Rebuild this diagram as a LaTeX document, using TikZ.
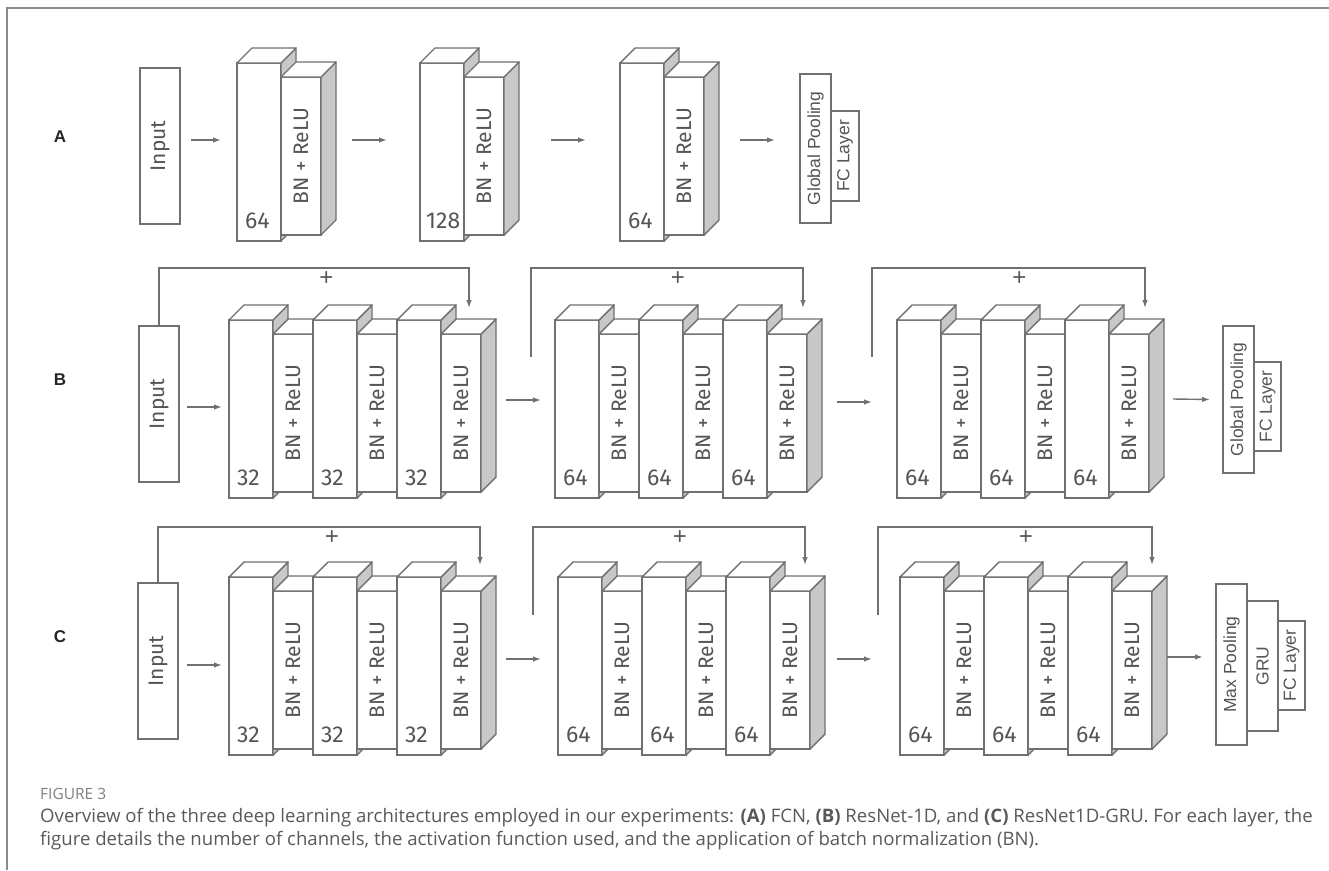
\documentclass[tikz,border=0pt]{standalone}
\usepackage{fontspec}
\setsansfont{Fira Sans}
\newfontfamily\arial{Liberation Sans}
\newfontfamily\leyenda{Open Sans}
\usetikzlibrary{positioning,calc,arrows.meta}
\definecolor{linea}{RGB}{112,112,112}
\definecolor{texto}{RGB}{85,85,85}
\definecolor{sombra}{RGB}{200,200,200}
\tikzset{
  capa/.style={draw=linea, fill=white, line width=1.4pt, inner sep=0pt, outer sep=0pt,
    font=\sffamily\fontsize{21}{21}\selectfont, text=texto},
  conv/.style={capa, minimum width=44pt, minimum height=178pt},
  bn/.style={capa, minimum width=40pt, minimum height=158pt},
  entrada/.style={capa, minimum width=40pt, minimum height=156pt},
  cabeza/.style={capa, font=\arial\fontsize{17.5}{17.5}\selectfont},
  num/.style={font=\sffamily\fontsize{23}{23}\selectfont, text=texto, inner sep=0pt, anchor=base west},
  flecha/.style={draw=linea, line width=1.4pt, -{Latex[length=8pt,width=5.5pt]}},
  mas/.style={font=\arial\fontsize{24}{24}\selectfont, text=texto, inner sep=0pt},
  fila/.style={font=\arial\bfseries\fontsize{17}{17}\selectfont, text=black!85},
  cara/.style={draw=linea, fill=sombra, line width=1.4pt, line join=round},
  tapa/.style={draw=linea, fill=white, line width=1.4pt, line join=round},
}
% caras laterales y superior de una capa
\newcommand{\caja}[1]{%
  \filldraw[cara] (#1.north east) -- ++(15,-15) -- ($(#1.south east)+(15,-15)$) -- (#1.south east) -- cycle;
  \filldraw[tapa] (#1.north west) -- ++(15,-15) -- ($(#1.north east)+(15,-15)$) -- (#1.north east) -- cycle;}
\begin{document}
\begin{tikzpicture}[x=1pt, y=-1pt]
  \useasboundingbox (0,0) rectangle (1329,870);
  \draw[draw=black!45, line width=2pt] (7,870) -- (7,8) -- (1329,8);

  % (A) FCN
  \node[fila] (lA) at (60,137) {A};
  \node[entrada] (inA) at (160,146) {\rotatebox{90}{Input}};
  \node[conv] (cA1) at (259,152) {}; \caja{cA1}
  \node[bn, right=0pt of cA1, yshift=-4pt] (bA1) {\rotatebox{90}{BN + ReLU}}; \caja{bA1}
  \node[num] (nA1) at ($(cA1.south west)+(8,-13)$) {64};
  \node[conv] (cA2) at (442,152) {}; \caja{cA2}
  \node[bn, right=0pt of cA2, yshift=-4pt] (bA2) {\rotatebox{90}{BN + ReLU}}; \caja{bA2}
  \node[num] (nA2) at ($(cA2.south west)+(6,-13)$) {128};
  \node[conv] (cA3) at (642,152) {}; \caja{cA3}
  \node[bn, right=0pt of cA3, yshift=-4pt] (bA3) {\rotatebox{90}{BN + ReLU}}; \caja{bA3}
  \node[num] (nA3) at ($(cA3.south west)+(8,-13)$) {64};
  \node[cabeza, minimum width=31pt, minimum height=149pt] (gpA) at (815.5,148.5) {\rotatebox{90}{Global Pooling}};
  \node[cabeza, minimum width=28pt, minimum height=90pt, right=0pt of gpA, yshift=-7.5pt] (fcA) {\rotatebox{90}{FC Layer}};
  \draw[flecha] ($(inA.east)+(11,-6)$) -- ($(cA1.west)+(-16,-12)$);
  \draw[flecha] ($(bA1.east)+(31,-16)$) -- ($(cA2.west)+(-33,-12)$);
  \draw[flecha] ($(bA2.east)+(47,-16)$) -- ($(cA3.west)+(-34,-12)$);
  \draw[flecha] ($(bA3.east)+(36,-16)$) -- ($(gpA.west)+(-25,-8.5)$);

  % (B) ResNet-1D
  \node[fila] (lB) at (60,380) {B};
  \node[entrada] (inB) at (159,404) {\rotatebox{90}{Input}};
  \foreach \g/\x/\n in {1/251/32, 2/577/64, 3/919/64}
    \foreach \k in {1,2,3} {
      \node[conv] (cB\g\k) at ({\x+84*(\k-1)},409) {}; \caja{cB\g\k}
      \node[bn, right=0pt of cB\g\k, yshift=-4pt] (bB\g\k) {\rotatebox{90}{BN + ReLU}}; \caja{bB\g\k}
      \node[num] (nB\g\k) at ($(cB\g\k.south west)+(8,-13)$) {\n};
    }
  \node[cabeza, minimum width=31pt, minimum height=147pt] (gpB) at (1238.5,399.5) {\rotatebox{90}{Global Pooling}};
  \node[cabeza, minimum width=27pt, minimum height=89pt, right=0pt of gpB, yshift=-7pt] (fcB) {\rotatebox{90}{FC Layer}};
  \coordinate (sB2) at (531,357);
  \coordinate (sB3) at (872,357);
  \draw[flecha] (inB.north) |- ($(bB13.north)+(8,-66)$) node[mas, pos=0.77, below=3pt] (pB1) {+} -- ($(bB13.north)+(8,-26)$);
  \draw[flecha] (sB2) |- ($(bB23.north)+(16,-66)$) node[mas, pos=0.77, below=3pt] (pB2) {+} -- ($(bB23.north)+(16,-26)$);
  \draw[flecha] (sB3) |- ($(bB33.north)+(16,-66)$) node[mas, pos=0.77, below=3pt] (pB3) {+} -- ($(bB33.north)+(16,-26)$);
  \draw[flecha] ($(inB.east)+(8,3)$) -- ($(cB11.west)+(-7,-2)$);
  \draw[flecha] ($(bB13.east)+(25,-13)$) -- ($(cB21.west)+(-14,-9)$);
  \draw[flecha] ($(bB23.east)+(30,-11)$) -- ($(cB31.west)+(-25,-7)$);
  \draw[flecha] ($(bB33.east)+(24,-14)$) -- ($(gpB.west)+(-13,0)$);

  % (C) ResNet1D-GRU
  \node[fila] (lC) at (60,637) {C};
  \node[entrada] (inC) at (158,661) {\rotatebox{90}{Input}};
  \foreach \g/\x/\n in {1/251/32, 2/580/64, 3/922/64}
    \foreach \k in {1,2,3} {
      \node[conv] (cC\g\k) at ({\x+84*(\k-1)},666) {}; \caja{cC\g\k}
      \node[bn, right=0pt of cC\g\k, yshift=-4pt] (bC\g\k) {\rotatebox{90}{BN + ReLU}}; \caja{bC\g\k}
      \node[num] (nC\g\k) at ($(cC\g\k.south west)+(8,-13)$) {\n};
    }
  \node[cabeza, minimum width=31pt, minimum height=161pt] (mpC) at (1231.5,664.5) {\rotatebox{90}{Max Pooling}};
  \node[cabeza, minimum width=31pt, minimum height=130pt, right=0pt of mpC, yshift=-1.5pt] (gruC) {\rotatebox{90}{GRU}};
  \node[cabeza, minimum width=27pt, minimum height=89pt, right=0pt of gruC, yshift=0.5pt] (fcC) {\rotatebox{90}{FC Layer}};
  \coordinate (sC2) at (533,615);
  \coordinate (sC3) at (878,615);
  \draw[flecha] (inC.north) |- ($(bC13.north)+(19,-64)$) node[mas, pos=0.77, below=3pt] (pC1) {+} -- ($(bC13.north)+(19,-26)$);
  \draw[flecha] (sC2) |- ($(bC23.north)+(15,-64)$) node[mas, pos=0.77, below=3pt] (pC2) {+} -- ($(bC23.north)+(15,-26)$);
  \draw[flecha] (sC3) |- ($(bC33.north)+(20,-64)$) node[mas, pos=0.77, below=3pt] (pC3) {+} -- ($(bC33.north)+(20,-26)$);
  \draw[flecha] ($(inC.east)+(9,4)$) -- ($(cC11.west)+(-7,-1)$);
  \draw[flecha] ($(bC13.east)+(25,-11)$) -- ($(cC21.west)+(-17,-7)$);
  \draw[flecha] ($(bC23.east)+(27,-11)$) -- ($(cC31.west)+(-28,-7)$);
  \draw[flecha] ($(bC33.east)+(15,-13)$) -- ($(mpC.west)+(-13,-7.5)$);

  % leyenda
  \node[anchor=base west, inner sep=0pt, text=black!50, font=\leyenda\fontsize{15.5}{15.5}\selectfont] (fig) at (40,799) {FIGURE 3};
  \node[anchor=base west, inner sep=0pt, align=left, text=black!65, font=\leyenda\fontsize{18.6}{23}\selectfont] (cap) at (40,845)
    {Overview of the three deep learning architectures employed in our experiments: \textbf{(A)} FCN, \textbf{(B)} ResNet-1D, and \textbf{(C)} ResNet1D-GRU. For each layer, the\\
     figure details the number of channels, the activation function used, and the application of batch normalization (BN).};
\end{tikzpicture}
\end{document}
